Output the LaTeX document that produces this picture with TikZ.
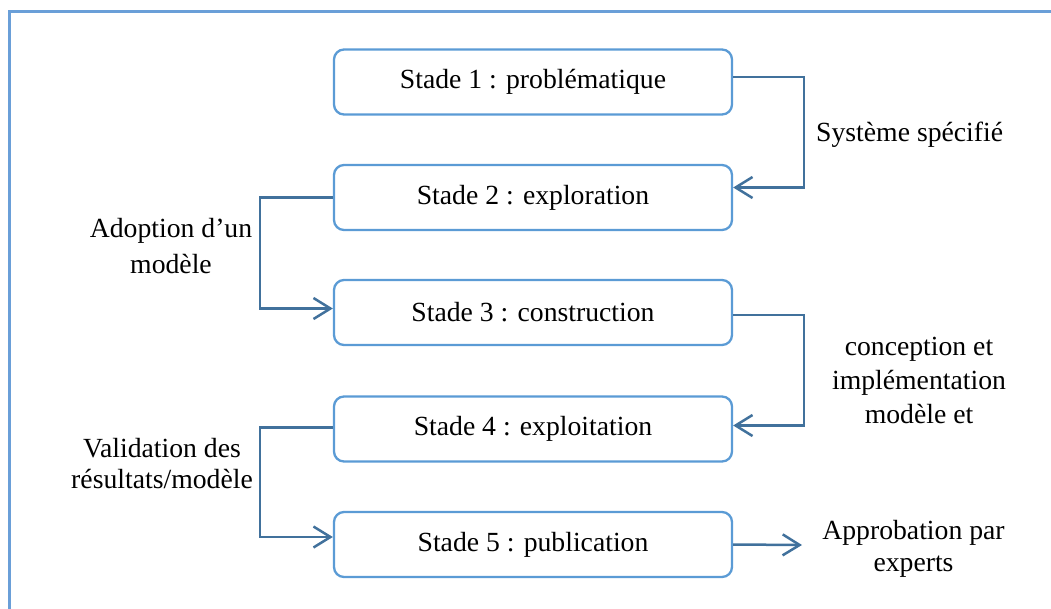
\documentclass[tikz,border=0pt]{standalone}
\usepackage{fontspec}
\setmainfont{Liberation Serif}
\usetikzlibrary{arrows.meta}
\definecolor{boxblue}{HTML}{5B9BD5}
\definecolor{linkblue}{HTML}{41719C}
\definecolor{frameblue}{HTML}{6A9FD8}
\newcommand{\diagfont}{\fontsize{27.7}{34}\selectfont}
\begin{document}
\begin{tikzpicture}[x=1pt,y=-1pt,
  stage/.style={draw=boxblue, line width=2.3pt, rounded corners=10pt,
    minimum width=398pt, minimum height=65pt, inner sep=0pt, font=\diagfont},
  link/.style={draw=linkblue, line width=2.5pt,
    -{Straight Barb[length=17pt,width=21pt]}},
  lbl/.style={align=center, inner sep=0pt, font=\diagfont}]
  \useasboundingbox (0,0) rectangle (1051,608);
  \begin{scope}
    \clip (0,0) rectangle (1051,608);
    % outer frame (only its top and left sides fall inside the page)
    \draw[frameblue, line width=2.2pt] (9.5,640) |- (1080,11.5);
  \end{scope}

  % the five stages
  \node[stage] (s1) at (533,82)    {Stade 1 : problématique};
  \node[stage] (s2) at (533,197.5) {Stade 2 : exploration};
  \node[stage] (s3) at (533,312.5) {Stade 3 : construction};
  \node[stage] (s4) at (533,429)   {Stade 4 : exploitation};
  \node[stage] (s5) at (533,544.5) {Stade 5 : publication};

  % labels
  \node[lbl, anchor=base west] (l1) at (816,141) {Système spécifié};
  \node[lbl, font=\fontsize{27.7}{36}\selectfont] (l2) at (171,246) {Adoption d’un\\modèle};
  \node[lbl] (l3) at (919,380) {conception et\\implémentation\\modèle et};
  \node[lbl, font=\fontsize{27.7}{31}\selectfont] (l4) at (162,464) {Validation des\\résultats/modèle};
  \node[lbl, font=\fontsize{27.7}{32}\selectfont] (l5) at (913.5,549) {Approbation par\\experts};

  % connectors
  \draw[link] ([yshift=5pt]s1.east) -- ++(71,0) |- ([yshift=10pt]s2.east);
  \draw[link] (s2.west) -- ++(-73,0) |- ([yshift=4pt]s3.west);
  \draw[link] ([yshift=-2.5pt]s3.east) -- ++(71,0) |- ([yshift=3.5pt]s4.east);
  \draw[link] ([yshift=1.5pt]s4.west) -- ++(-73,0) |- ([yshift=7.5pt]s5.west);
  \coordinate (pubend) at (802,545);
  \draw[link] (s5.east) -- (pubend);
\end{tikzpicture}
\end{document}
